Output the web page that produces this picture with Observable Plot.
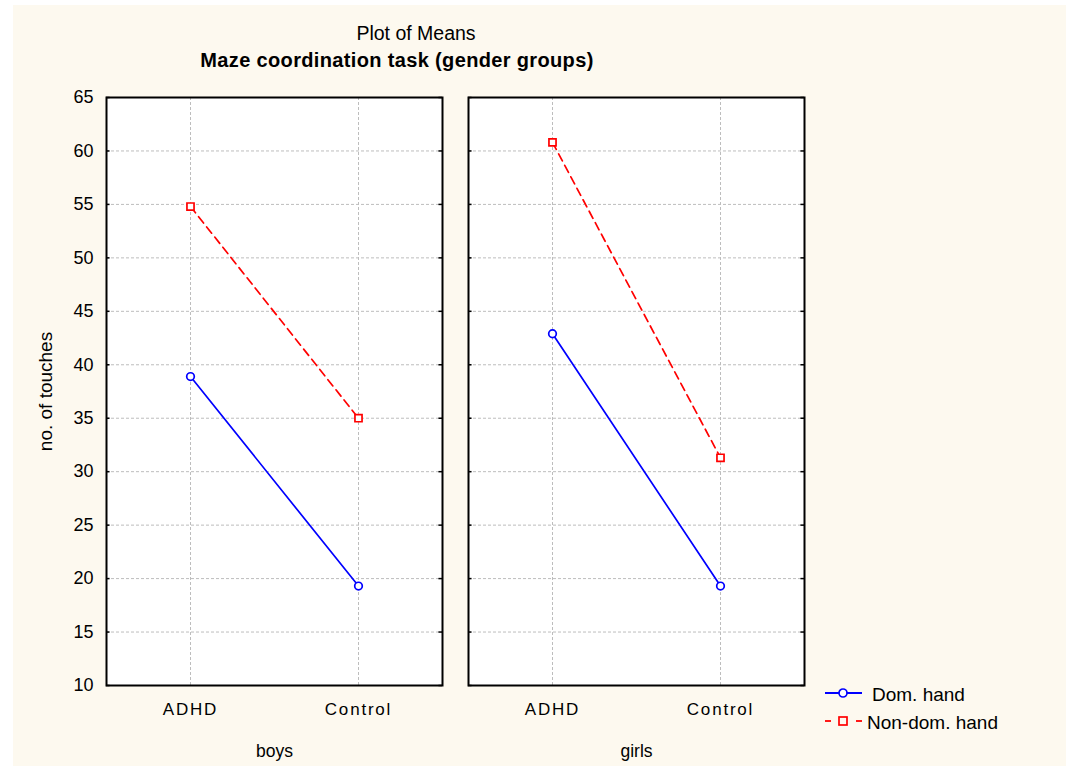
<!DOCTYPE html>
<html>
<head>
<meta charset="utf-8">
<script src="https://cdn.jsdelivr.net/npm/d3@7"></script>
<script src="https://cdn.jsdelivr.net/npm/@observablehq/plot@0.6"></script>
<style>
  body { margin: 0; background: #ffffff; font-family: "Liberation Sans", Arial, sans-serif; color: #000; }
  #wrap { position: relative; width: 1066px; height: 767px; overflow: hidden; }
  #bg { position: absolute; left: 13px; top: 5px; right: 0; bottom: 1px; background: #fdf9ef; }
  .txt { position: absolute; white-space: nowrap; line-height: 1; }
  #title { left: 416px; top: 24px; font-size: 19.5px; transform: translateX(-50%); }
  #subtitle { left: 397px; top: 50px; font-size: 20px; font-weight: bold; letter-spacing: 0.35px; transform: translateX(-50%); }
  #chart { position: absolute; left: 0; top: 80px; }
  #chart g[aria-label="x-axis tick label"] text { letter-spacing: 1.8px; }
  #chart g[aria-label="fx-axis tick label"] { font-size: 17.5px; }
  #chart g[aria-label="fx-axis tick label"] text { font-size: 17.5px; }
  #chart g[aria-label="y-axis label"] text { font-size: 19px; }
  .leg { position: absolute; }
</style>
</head>
<body>
<div id="wrap">
  <div id="bg"></div>
  <div id="title" class="txt"></div>
  <div id="subtitle" class="txt"></div>
  <div id="chart"></div>
  <div id="legend"></div>
</div>
<script>
// ---- data ----
const titleText = "Plot of Means";
const subtitleText = "Maze coordination task (gender groups)";
const yLabel = "no. of touches";
const groups = ["boys", "girls"];
const categories = ["ADHD", "Control"];
const seriesNames = ["Dom. hand", "Non-dom. hand"];
const boysDom = [38.9, 19.3];
const boysNonDom = [54.8, 35.0];
const girlsDom = [42.9, 19.3];
const girlsNonDom = [60.8, 31.3];
const yTicks = [10, 15, 20, 25, 30, 35, 40, 45, 50, 55, 60, 65];
const seriesColors = ["#0000ff", "#ff0000"];

document.getElementById("title").textContent = titleText;
document.getElementById("subtitle").textContent = subtitleText;

// build tables
const valuesBy = {boys: [boysDom, boysNonDom], girls: [girlsDom, girlsNonDom]};
const rows = [];
for (const g of groups) {
  seriesNames.forEach((s, si) => {
    categories.forEach((c, ci) => {
      rows.push({group: g, category: c, series: s, value: valuesBy[g][si][ci]});
    });
  });
}
const domRows = rows.filter(d => d.series === seriesNames[0]);
const nonDomRows = rows.filter(d => d.series === seriesNames[1]);

const W = 1066, H = 687;
const mL = 105, mR = 262, mT = 17, mB = 82;
const pInner = 0.072;
const bw = (W - mL - mR) * (1 - pInner) / (2 - pInner);
const gridStyle = {stroke: "#bdbdbd", strokeOpacity: 1, strokeWidth: 1, strokeDasharray: "3,2"};

const chart = Plot.plot({
  width: W,
  height: H,
  marginLeft: mL,
  marginRight: mR,
  marginTop: mT,
  marginBottom: mB,
  style: {background: "transparent", fontFamily: "Liberation Sans, Arial, sans-serif", color: "#000", overflow: "visible"},
  fx: {domain: groups, paddingInner: pInner, paddingOuter: 0},
  x: {type: "point", domain: categories, padding: 0.5},
  y: {domain: [10, 65]},
  marks: [
    Plot.frame({fill: "white", stroke: null}),
    Plot.gridY(yTicks, gridStyle),
    Plot.gridX(categories, gridStyle),
    Plot.ruleY(yTicks, {y: d => d, insetRight: bw - 4, stroke: "black", strokeWidth: 1.5}),
    Plot.ruleY(yTicks, {y: d => d, insetLeft: bw - 4, stroke: "black", strokeWidth: 1.5}),
    Plot.line(domRows, {fx: "group", x: "category", y: "value", stroke: seriesColors[0], strokeWidth: 1.7}),
    Plot.line(nonDomRows, {fx: "group", x: "category", y: "value", stroke: seriesColors[1], strokeWidth: 1.7, strokeDasharray: "8,5"}),
    Plot.dot(domRows, {fx: "group", x: "category", y: "value", r: 3.8, symbol: "circle", fill: "white", stroke: seriesColors[0], strokeWidth: 1.7}),
    Plot.dot(nonDomRows, {fx: "group", x: "category", y: "value", r: 4, symbol: "square", fill: "white", stroke: seriesColors[1], strokeWidth: 1.7}),
    Plot.frame({stroke: "black", strokeWidth: 2}),
    Plot.axisY(yTicks, {anchor: "left", tickSize: 0, tickPadding: 13, fontSize: 18, label: yLabel, labelAnchor: "center", labelOffset: 68, labelArrow: "none"}),
    Plot.axisX({anchor: "bottom", tickSize: 0, tickPadding: 17, fontSize: 17, label: null}),
    Plot.axisFx({anchor: "bottom", tickSize: 0, tickPadding: 59, fontSize: 17.5, label: null})
  ]
});
chart.querySelectorAll('g[aria-label="y-axis label"] text').forEach(t => t.setAttribute("font-size", "19"));
document.getElementById("chart").appendChild(chart);

// legend
const legend = document.getElementById("legend");
const items = [
  {name: seriesNames[0], color: seriesColors[0], symbol: "circle", cy: 693, textLeft: 872, textTop: 685},
  {name: seriesNames[1], color: seriesColors[1], symbol: "square", cy: 721, textLeft: 867, textTop: 713}
];
items.forEach(it => {
  const s = d3.create("svg").attr("class", "leg").attr("width", 40).attr("height", 14)
    .style("left", "824px").style("top", (it.cy - 7) + "px");
  if (it.symbol === "circle") {
    s.append("line").attr("x1", 1).attr("x2", 38).attr("y1", 7).attr("y2", 7)
      .attr("stroke", it.color).attr("stroke-width", 1.8);
    s.append("circle").attr("cx", 19).attr("cy", 7).attr("r", 4).attr("fill", "white").attr("stroke", it.color).attr("stroke-width", 1.7);
  } else {
    s.append("line").attr("x1", 1).attr("x2", 7).attr("y1", 7).attr("y2", 7)
      .attr("stroke", it.color).attr("stroke-width", 1.8);
    s.append("line").attr("x1", 32).attr("x2", 38).attr("y1", 7).attr("y2", 7)
      .attr("stroke", it.color).attr("stroke-width", 1.8);
    s.append("rect").attr("x", 15).attr("y", 3).attr("width", 8).attr("height", 8).attr("fill", "#fdf9ef").attr("stroke", it.color).attr("stroke-width", 1.7);
  }
  legend.appendChild(s.node());
  const t = document.createElement("div");
  t.className = "txt";
  t.style.left = it.textLeft + "px";
  t.style.top = it.textTop + "px";
  t.style.fontSize = "19px";
  t.textContent = it.name;
  legend.appendChild(t);
});
</script>
</body>
</html>
